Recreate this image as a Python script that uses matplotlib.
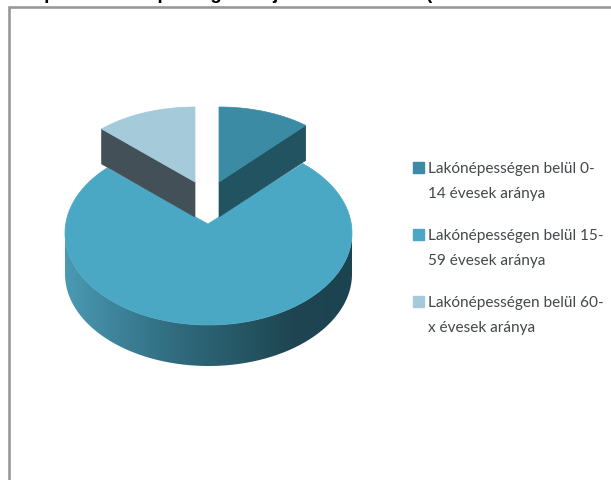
import numpy as np
import matplotlib
matplotlib.use('Agg')
import matplotlib.pyplot as plt
from matplotlib.colors import LinearSegmentedColormap
from matplotlib.legend_handler import HandlerPatch
from matplotlib.patches import Patch, Polygon, Rectangle

# values (share of the residents, %)
age_labels = ['Lakónépességen belül 0-\n14 évesek aránya',
              'Lakónépességen belül 15-\n59 évesek aránya',
              'Lakónépességen belül 60-\nx évesek aránya']
shares = [11.4, 76.1, 12.5]
top_colors = ['#3a8ba3', '#4ba8c4', '#a5cbdb']
side_colors = ['#215360', '#435058']
rim_colors = ['#4a9ab3', '#3c8197', '#2f6a7c', '#265867', '#1e4550', '#1c4450']
# only the descenders show in the picture, so the wording is a guess
title = 'A település lakónépesség korfája és összetétele (KSH 2011. évi adatok)'

fig = plt.figure(figsize=(6.11, 4.8), dpi=100)
ax = fig.add_axes([0, 0, 1, 1])


def ellipse(cx, cy, rx, ry, angles):
    # angles run clockwise from 12 o'clock
    return np.column_stack((cx + rx * np.sin(angles), cy - ry * np.cos(angles)))


def first_line_square(legend, orig_handle, xdescent, ydescent, width, height, fontsize):
    # square next to the first line of the two line label
    return Rectangle((-xdescent, -ydescent + 10.0), width, height)


# slice borders in radians
a1 = np.radians(shares[0] * 3.6)
a2 = np.radians((shares[0] + shares[1]) * 3.6)

# big slice: rim with gradient first, then the top
cx, cy, rx, ry, depth = 208.5, 233, 143.5, 92, 41
lower = np.linspace(np.pi / 2, 3 * np.pi / 2, 100)
rim = np.vstack((ellipse(cx, cy, rx, ry, lower),
                 ellipse(cx, cy + depth, rx, ry, lower[::-1])))
rim_patch = Polygon(rim, closed=True, fc='none', ec='none')
ax.add_patch(rim_patch)
cmap = LinearSegmentedColormap.from_list('rim', rim_colors)
grad = ax.imshow(np.linspace(0, 1, 256).reshape(1, -1), cmap=cmap, aspect='auto',
                 extent=(cx - rx, cx + rx, cy + depth + ry, cy - ry), zorder=1)
grad.set_clip_path(rim_patch)

big = np.linspace(a1, a2, 200)
big_top = np.vstack(([[208, 224]], ellipse(cx, cy, rx, ry, big)))
ax.add_patch(Polygon(big_top, closed=True, fc=top_colors[1], ec=top_colors[1], lw=0.5, zorder=2))

# the two pulled out slices, side wall and top
srx, sry, sdepth = 132, 75, 35
right = np.linspace(0, a1, 50)
left = np.linspace(a2, 2 * np.pi, 50)
for k, (vx, angles, edge) in enumerate([(219, right, right[-1]), (195, left, left[0])]):
    corner = ellipse(vx, 182, srx, sry, np.array([edge]))[0]
    wall = [(vx, 182), corner, (corner[0], corner[1] + sdepth), (vx, 182 + sdepth)]
    ax.add_patch(Polygon(wall, closed=True, fc=side_colors[k], ec=side_colors[k], lw=0.5, zorder=3))
    top = np.vstack(([[vx, 182]], ellipse(vx, 182, srx, sry, angles)))
    color = top_colors[0] if k == 0 else top_colors[2]
    ax.add_patch(Polygon(top, closed=True, fc=color, ec=color, lw=0.5, zorder=4))

# frame of the chart, runs off the picture on the right and at the bottom
ax.plot([8.5, 8.5, 611], [480, 6.5, 6.5], color='#999999', lw=1.9, solid_joinstyle='miter', zorder=5)

# heading, almost all of it is cut off by the top edge
ax.text(-6, -1, title, fontsize=13.5, fontweight='bold', family='Liberation Sans',
        color='black', va='baseline', ha='left')

handles = [Patch(color=c) for c in top_colors]
leg = ax.legend(handles, age_labels, loc='upper left', bbox_to_anchor=(413, 161.5),
                bbox_transform=ax.transData, frameon=False, labelcolor='#43484b',
                prop={'family': 'Lato', 'size': 11.1},
                handlelength=0.72, handleheight=0.72, handletextpad=0.25,
                labelspacing=1.8, borderpad=0, borderaxespad=0,
                handler_map={Patch: HandlerPatch(patch_func=first_line_square)})
for t in leg.get_texts():
    t.set_linespacing(2.03)

ax.set_xlim(0, 611)
ax.set_ylim(480, 0)
ax.axis('off')

plt.savefig('out.png', dpi=100)
